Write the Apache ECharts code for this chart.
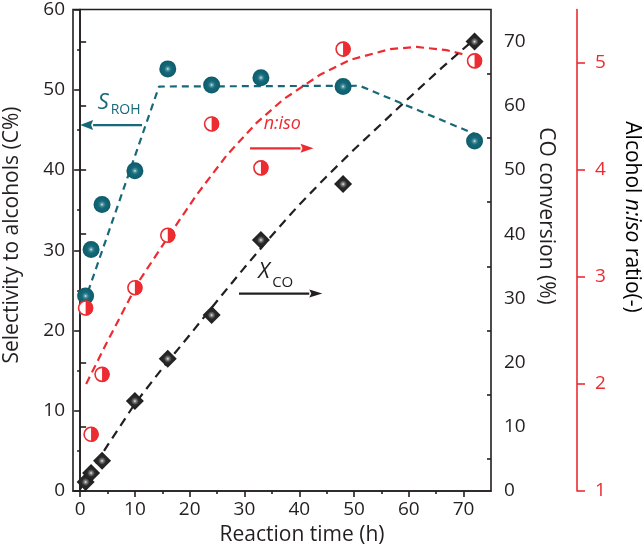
<!DOCTYPE html>
<html><head><meta charset="utf-8">
<script src="https://cdn.jsdelivr.net/npm/echarts@6/dist/echarts.min.js"></script>
<style>html,body{margin:0;padding:0;background:#fff}#c{width:644px;height:550px}</style>
</head><body><div id="c"></div>
<script>
// ---- data ----
const time = [1, 2, 4, 10, 16, 24, 33, 48, 72];
const selectivity = [24.3, 30.1, 35.7, 39.9, 52.6, 50.6, 51.5, 50.4, 43.6];
const conversion = [1.4, 2.8, 4.7, 14.0, 20.6, 27.4, 39.1, 47.8, 70.0];
const nisoRatio = [2.71, 1.53, 2.09, 2.90, 3.39, 4.43, 4.02, 5.13, 5.02];

const selFitTime = [0, 14.4, 51, 72];
const selFit = [22, 50.4, 50.5, 44.5];
const convFitTime = [0, 5, 10, 15, 20, 25, 30, 35, 40, 45, 50, 55, 60, 66, 72];
const convFit = [0.3, 7.1, 13.6, 19.1, 24.3, 29.6, 34.8, 39.8, 44.6, 49.0, 53.2, 57.2, 61.2, 65.9, 70.4];
const ratioFitTime = [1.1, 5, 10.6, 16.4, 21.3, 26.8, 32.2, 37.1, 43.8, 49.3, 56.6, 61.4, 66.9, 70];
const ratioFit = [2.0, 2.40, 2.95, 3.40, 3.77, 4.14, 4.44, 4.66, 4.89, 5.03, 5.13, 5.15, 5.12, 5.08];

const xTicks = [0, 10, 20, 30, 40, 50, 60, 70];
const xMinorTicks = [5, 15, 25, 35, 45, 55, 65];
const coTicks = [0, 10, 20, 30, 40, 50, 60, 70];
const coMinorTicks = [5, 15, 25, 35, 45, 55, 65];
const ratioTicks = [1, 2, 3, 4, 5];

// ---- styling ----
const FONT = 'Open Sans';
const INK = '#231f20';
const TEAL = '#17697a';
const RED = '#ec2c31';

const zip = (a, b) => a.map((v, i) => [v, b[i]]);

const tealGrad = {type: 'radial', x: 0.5, y: 0.5, r: 0.5, colorStops: [
  {offset: 0, color: '#e6f2f3'}, {offset: 0.16, color: '#5a9aa5'},
  {offset: 0.42, color: '#156a7b'}, {offset: 1, color: '#0e5b69'}]};
const diaGrad = {type: 'radial', x: 0.5, y: 0.5, r: 0.5, colorStops: [
  {offset: 0, color: '#f4f4f4'}, {offset: 0.14, color: '#8a8a8a'},
  {offset: 0.42, color: '#2a2a2a'}, {offset: 1, color: '#1b1b1b'}]};

const axisLine = (c) => ({show: true, lineStyle: {color: c, width: 1.6}});

const option = {
  animation: false,
  backgroundColor: '#fff',
  grid: {left: 73, right: 153, top: 8, bottom: 59, show: true, borderColor: INK, borderWidth: 1.6},
  xAxis: [
    {type: 'value', min: -1.3, max: 75, position: 'bottom',
     axisLine: axisLine(INK),
     axisTick: {show: true, customValues: xTicks, length: 6, lineStyle: {color: INK, width: 1.6}},
     axisLabel: {customValues: xTicks, color: INK, fontFamily: FONT, fontSize: 19, margin: 9},
     splitLine: {show: false}},
    {type: 'value', min: -1.3, max: 75, position: 'bottom',
     axisLine: {show: false},
     axisTick: {show: true, customValues: xMinorTicks, length: 3, lineStyle: {color: INK, width: 1.6}},
     axisLabel: {show: false}, splitLine: {show: false}}
  ],
  yAxis: [
    {type: 'value', min: 0, max: 60, interval: 10, position: 'left',
     axisLine: axisLine(INK),
     axisTick: {show: true, length: 6, lineStyle: {color: INK, width: 1.6}},
     minorTick: {show: true, splitNumber: 2, length: 3, lineStyle: {color: INK, width: 1.6}},
     axisLabel: {color: INK, fontFamily: FONT, fontSize: 19, margin: 8},
     splitLine: {show: false}, minorSplitLine: {show: false}},
    {type: 'value', min: 0, max: 75, position: 'right',
     axisLine: axisLine(INK),
     axisTick: {show: true, customValues: coTicks, length: 6, lineStyle: {color: INK, width: 1.6}},
     axisLabel: {customValues: coTicks, color: INK, fontFamily: FONT, fontSize: 19, margin: 13},
     splitLine: {show: false}},
    {type: 'value', min: 1, max: 5.5, position: 'right', offset: 86,
     axisLine: axisLine(RED),
     axisTick: {show: true, customValues: ratioTicks, length: 8, lineStyle: {color: RED, width: 1.6}},
     axisLabel: {customValues: ratioTicks, color: RED, fontFamily: FONT, fontSize: 19, margin: 18},
     splitLine: {show: false}},
    {type: 'value', min: 0, max: 75, position: 'right',
     axisLine: {show: false},
     axisTick: {show: true, inside: true, customValues: coMinorTicks, length: 4, lineStyle: {color: INK, width: 1.6}},
     axisLabel: {show: false}, splitLine: {show: false}}
  ],
  series: [
    {type: 'line', xAxisIndex: 0, yAxisIndex: 0, data: zip(selFitTime, selFit), symbol: 'none',
     lineStyle: {color: TEAL, width: 2.2, type: [7, 5]}, z: 2},
    {type: 'line', xAxisIndex: 0, yAxisIndex: 2, data: zip(ratioFitTime, ratioFit), symbol: 'none',
     lineStyle: {color: RED, width: 2.2, type: [8, 5]}, z: 2},
    {type: 'line', xAxisIndex: 0, yAxisIndex: 1, data: zip(convFitTime, convFit), symbol: 'none',
     lineStyle: {color: INK, width: 2.2, type: [9, 6]}, z: 2},
    {type: 'scatter', xAxisIndex: 0, yAxisIndex: 0, data: zip(time, selectivity), symbol: 'circle', symbolSize: 17,
     itemStyle: {color: tealGrad, opacity: 1}, clip: false, z: 3},
    {type: 'scatter', xAxisIndex: 0, yAxisIndex: 2, data: zip(time, nisoRatio), symbol: 'circle', symbolSize: 14,
     itemStyle: {color: '#fff', borderColor: RED, borderWidth: 1.6, opacity: 1}, clip: false, z: 3},
    {type: 'scatter', xAxisIndex: 0, yAxisIndex: 2, data: zip(time, nisoRatio),
     symbol: 'path://M0,0A10,10 0 0 1 0,20Z', symbolSize: [7.6, 15.2], symbolOffset: [3.8, 0],
     itemStyle: {color: RED, opacity: 1}, clip: false, z: 3},
    {type: 'scatter', xAxisIndex: 0, yAxisIndex: 1, data: zip(time, conversion), symbol: 'diamond', symbolSize: 18,
     itemStyle: {color: diaGrad, opacity: 1}, clip: false, z: 4}
  ]
};

const chart = echarts.init(document.getElementById('c'), null, {renderer: 'canvas'});
chart.setOption(option);

// annotation anchors in (time, selectivity) data units
const P = (x, y) => chart.convertToPixel({seriesIndex: 3}, [x, y]);

function arrow(from, to, color, headLen, headHalf) {
  const a = P(from[0], from[1]), b = P(to[0], to[1]);
  const dir = Math.sign(b[0] - a[0]);
  const baseX = b[0] - dir * headLen;
  return [
    {type: 'line', shape: {x1: a[0], y1: a[1], x2: baseX, y2: b[1]}, style: {stroke: color, lineWidth: 2.2}, z: 10},
    {type: 'polygon', shape: {points: [[b[0], b[1]], [baseX, b[1] - headHalf], [baseX + dir * 2, b[1]], [baseX, b[1] + headHalf]]},
     style: {fill: color}, z: 10}
  ];
}

function txt(x, y, text, font, color, extra, rotation) {
  return {type: 'text', x: x, y: y, z: 10, rotation: rotation || 0,
    style: Object.assign({text: text, font: font, fill: color}, extra || {})};
}
const F = (size, italic) => (italic ? 'italic ' : '') + size + 'px "' + FONT + '"';

const sPos = P(3.2, 47.0), xPos = P(32.5, 26.0), nPos = P(33.5, 44.6);
const graphics = [].concat(
  arrow([11.3, 45.6], [0.0, 45.6], TEAL, 13, 5),
  arrow([31.0, 42.7], [42.6, 42.7], RED, 13, 4.5),
  arrow([29.0, 24.6], [44.2, 24.6], INK, 13, 4),
  [
    txt(sPos[0], sPos[1], 'S', F(22, true), TEAL, {verticalAlign: 'bottom'}),
    txt(sPos[0] + 13, sPos[1] + 3, 'ROH', F(14), TEAL, {verticalAlign: 'bottom'}),
    txt(nPos[0], nPos[1], 'n:iso', F(18, true), RED, {verticalAlign: 'bottom'}),
    txt(xPos[0], xPos[1], 'X', F(22, true), INK, {verticalAlign: 'bottom'}),
    txt(xPos[0] + 14, xPos[1] + 8, 'CO', F(15), INK, {verticalAlign: 'bottom'}),
    // axis titles
    txt(12, 235, 'Selectivity to alcohols (C%)', F(21), INK, {align: 'center', verticalAlign: 'middle'}, Math.PI / 2),
    txt(302, 535, 'Reaction time (h)', F(21), INK, {align: 'center', verticalAlign: 'middle'}),
    txt(546, 216, 'CO conversion (%)', F(21), INK, {align: 'center', verticalAlign: 'middle'}, -Math.PI / 2),
    {type: 'text', x: 632, y: 217, z: 10, rotation: -Math.PI / 2,
     style: {text: '{a|Alcohol }{b|n:iso}{a| ratio(-)}', align: 'center', verticalAlign: 'middle',
       rich: {a: {fontFamily: FONT, fontSize: 21, color: RED}, b: {fontFamily: FONT, fontSize: 21, fontStyle: 'italic', color: RED}}}}
  ]
);
chart.setOption({graphic: graphics});
</script>
</body></html>
